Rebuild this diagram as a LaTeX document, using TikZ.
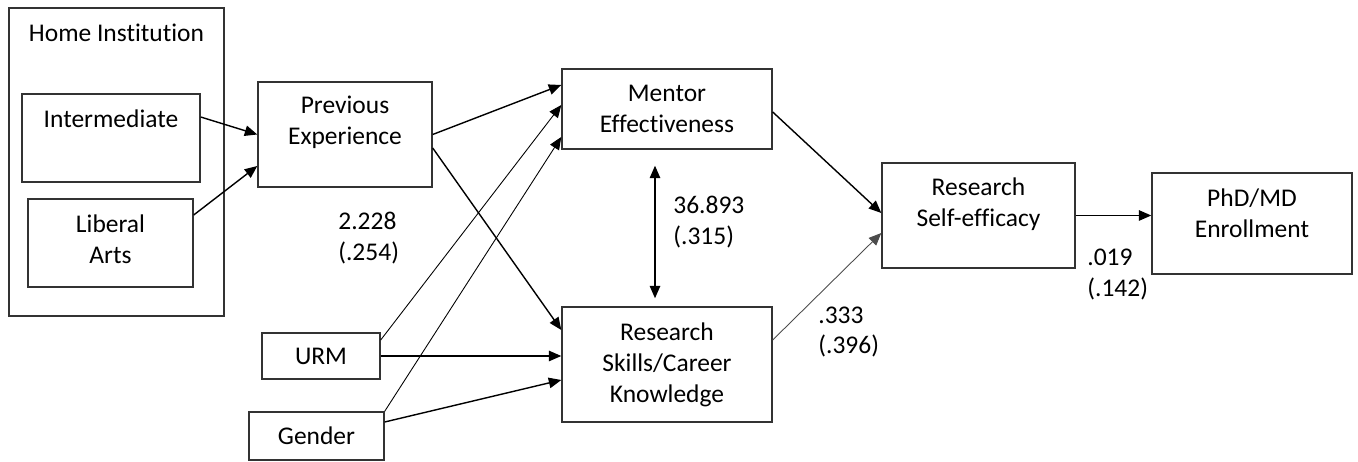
\documentclass[tikz,border=0pt]{standalone}
\usepackage{fontspec}
\setmainfont[Ligatures=NoCommon]{Carlito}
\usetikzlibrary{arrows.meta}
\tikzset{
box/.style={
	  draw=black!80, line width=0.8pt, rectangle, inner sep=0pt,
	    font=\fontsize{14.5}{17.6}\selectfont, align=center},
txt/.style={font=\fontsize{14.5}{17.6}\selectfont, align=center, inner sep=0pt},
coef/.style={font=\fontsize{14.5}{17.6}\selectfont, align=left, anchor=west, inner sep=0pt},
path/.style={-{Triangle[length=2.5mm,width=2.1mm]}, line width=0.8pt},
thinpath/.style={path, line width=0.5pt}
}

\begin{document}
\begin{tikzpicture}
	\useasboundingbox (0,0) rectangle (27.16,9.24);
	\node[box, minimum width=4.30cm, minimum height=6.16cm,
		label={[txt, yshift=2.58cm]center:Home Institution}] (home) at (2.33,6.00) {};
	\node[box, minimum width=3.56cm, minimum height=1.76cm,
		label={[txt, yshift=0.38cm]center:Intermediate}] (inter) at (2.22,6.48) {};
	\node[box, minimum width=3.30cm, minimum height=1.76cm,
		label={[txt, yshift=0.08cm]center:Liberal\\Arts}] (liberal) at (2.21,4.38) {};
	\node[box, minimum width=3.48cm, minimum height=2.10cm,
		label={[txt, yshift=0.24cm]center:Previous\\Experience}] (prev) at (6.90,6.55) {};
	\node[box, minimum width=4.20cm, minimum height=1.60cm] (mentor) at (13.34,7.06) {Mentor\\Effectiveness};
	\node[box, minimum width=4.20cm, minimum height=2.30cm] (skills) at (13.34,1.95) {Research\\Skills/Career\\Knowledge};
	\node[box, minimum width=3.86cm, minimum height=2.10cm,
		label={[txt, yshift=0.23cm]center:Research\\Self-efficacy}] (selfeff) at (19.57,4.93) {};
	\node[box, minimum width=4.00cm, minimum height=2.02cm,
		label={[txt, yshift=0.21cm]center:PhD/MD\\Enrollment}] (phd) at (25.04,4.77) {};
	\node[box, minimum width=2.36cm, minimum height=0.92cm] (urm) at (6.42,2.12) {URM};
	\node[box, minimum width=2.70cm, minimum height=0.96cm] (gender) at (6.33,0.52) {Gender};

	\node[coef] (cprev) at (6.76,4.48) {2.228\\(.254)};
	\node[coef] (ccov) at (13.46,4.80) {36.893\\(.315)};
	\node[coef] (cskills) at (16.36,2.60) {.333\\(.396)};
	\node[coef] (cse) at (21.74,3.75) {.019\\(.142)};

	\draw[path] ([yshift=0.42cm]inter.east) -- (prev.west);
	\draw[path] ([yshift=0.56cm]liberal.east) -- ([yshift=-0.63cm]prev.west);
	\draw[path] (prev.east) -- ([yshift=0.48cm]mentor.west);
	\draw[path] ([yshift=-0.27cm]prev.east) -- ([yshift=0.69cm]skills.west);
	\draw[thinpath] ([yshift=0.32cm]urm.east) -- ([yshift=0.08cm]mentor.west);
	\draw[thinpath] (gender.north east) -- ([yshift=-0.56cm]mentor.west);
	\draw[path] (urm.east) -- (urm.east -| skills.west);
	\draw[path] ([yshift=0.28cm]gender.east) -- ([yshift=-0.31cm]skills.west);
	\draw[path] ([yshift=-0.06cm]mentor.east) -- ([yshift=0.05cm]selfeff.west);
	\draw[thinpath, draw=black!70] ([yshift=0.49cm]skills.east) -- ([yshift=-0.35cm]selfeff.west);
	\draw[path] (selfeff.east) -- (selfeff.east -| phd.west);
	\draw[path, {Triangle[length=2.5mm,width=2.1mm]}-{Triangle[length=2.5mm,width=2.1mm]}]
		([xshift=-0.24cm, yshift=-0.32cm]mentor.south) -- ([xshift=-0.24cm, yshift=0.16cm]skills.north);
\end{tikzpicture}
\end{document}
